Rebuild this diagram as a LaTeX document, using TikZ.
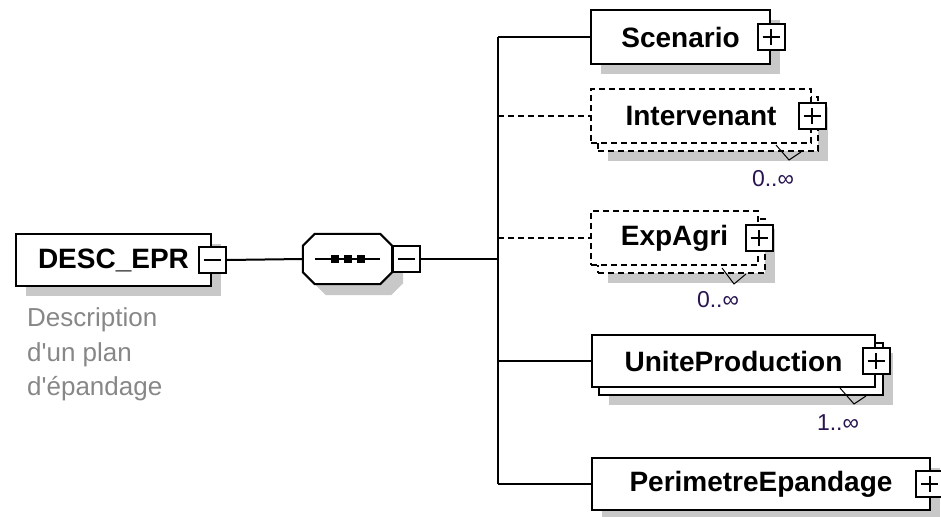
\documentclass[tikz,border=0pt]{standalone}
\usepackage{fontspec}
\setmainfont{Liberation Sans}[Ligatures=TeXOff]
\usetikzlibrary{calc,shadows}
\definecolor{shadowc}{RGB}{200,200,200}
\definecolor{descc}{RGB}{135,135,135}
\definecolor{multc}{RGB}{40,20,80}
\newcommand\seqoct[2]{([xshift=12pt+#1,yshift=#2]seq.north west) -- ([xshift=-12pt+#1,yshift=#2]seq.north east) -- ([xshift=#1,yshift=-12pt+#2]seq.north east) -- ([xshift=#1,yshift=12pt+#2]seq.south east) -- ([xshift=-12pt+#1,yshift=#2]seq.south east) -- ([xshift=12pt+#1,yshift=#2]seq.south west) -- ([xshift=#1,yshift=12pt+#2]seq.south west) -- ([xshift=#1,yshift=-12pt+#2]seq.north west) -- cycle}
\begin{document}
\begin{tikzpicture}[x=1pt,y=-1pt,
  shad/.style={drop shadow={shadow xshift=10pt, shadow yshift=-10pt, fill=shadowc, opacity=1}},
  elem/.style={draw, fill=white, line width=2pt, inner sep=0pt, font=\bfseries\fontsize{28}{32}\selectfont},
  optelem/.style={elem, dash pattern=on 6pt off 4pt},
  backbox/.style={draw, fill=white, line width=2pt, inner sep=0pt},
  optback/.style={backbox, dash pattern=on 6pt off 4pt},
  pmbox/.style={draw, fill=white, line width=2pt, minimum width=27pt, minimum height=26pt, inner sep=0pt},
  plusbox/.style={pmbox, path picture={\draw[line width=2pt] ([xshift=5pt]path picture bounding box.west) -- ([xshift=-5pt]path picture bounding box.east) ([yshift=-5pt]path picture bounding box.north) -- ([yshift=5pt]path picture bounding box.south);}},
  minusbox/.style={pmbox, path picture={\draw[line width=2pt] ([xshift=5pt]path picture bounding box.west) -- ([xshift=-5pt]path picture bounding box.east);}},
  conn/.style={line width=2pt},
  optconn/.style={conn, dash pattern=on 6pt off 4pt},
  vmark/.style={line width=1pt},
  mult/.style={font=\fontsize{23}{26}\selectfont, text=multc, inner sep=0pt},
  desctext/.style={font=\fontsize{26}{34.5}\selectfont, text=descc, align=left, inner sep=0pt}
]
\useasboundingbox (0,0) rectangle (941,516);

% root element
\node[elem, shad, minimum width=195, minimum height=52, anchor=north west] (desc) at (15,233) {DESC\_EPR};
\node[minusbox] (descm) at (desc.east) {};
\node[desctext, anchor=north west] (descr) at (27,307.5) {Description\\d'un plan\\d'épandage};

% sequence compositor
\node[minimum width=89, minimum height=50, inner sep=0pt] (seq) at (347.5,259) {};
\fill[shadowc] \seqoct{11pt}{-11pt};
\draw[conn, fill=white] \seqoct{0pt}{0pt};
\draw[line width=2pt] ([xshift=12pt]seq.west) -- ([xshift=-12pt]seq.east);
\fill ([xshift=-17pt,yshift=-4pt]seq.center) rectangle ([xshift=-9pt,yshift=4pt]seq.center);
\fill ([xshift=-4pt,yshift=-4pt]seq.center) rectangle ([xshift=4pt,yshift=4pt]seq.center);
\fill ([xshift=9pt,yshift=-4pt]seq.center) rectangle ([xshift=17pt,yshift=4pt]seq.center);
\node[minusbox, anchor=west] (seqm) at (seq.east) {};

% Scenario
\node[elem, shad, minimum width=179, minimum height=54, anchor=north west] (scen) at (590,9) {Scenario};
\node[plusbox] (scenp) at (scen.east) {};

% Intervenant
\node[optback, shad, minimum width=220, minimum height=54, anchor=north west] (intb) at (597,96) {};
\node[optelem, minimum width=220, minimum height=54, anchor=north west] (inter) at (590,88) {Intervenant};
\node[plusbox] (interp) at (inter.east) {};
\draw[vmark] ($(intb.south east)+(-43,-7)$) -- ($(intb.south east)+(-30,8)$) -- ($(intb.south east)+(-18,0)$);
\node[mult] (interm) at ($(intb.south east)+(-46,27)$) {0..∞};

% ExpAgri
\node[optback, shad, minimum width=167, minimum height=54, anchor=north west] (expb) at (597,218) {};
\node[optelem, minimum width=167, minimum height=54, anchor=north west] (exp) at (590,210) {ExpAgri};
\node[plusbox] (expp) at (exp.east) {};
\draw[vmark] ($(expb.south east)+(-44,-6)$) -- ($(expb.south east)+(-32,10)$) -- ($(expb.south east)+(-20,0)$);
\node[mult] (expm) at ($(expb.south east)+(-48,26)$) {0..∞};

% UniteProduction
\node[backbox, shad, minimum width=284, minimum height=52, anchor=north west] (uniteb) at (598,342) {};
\node[elem, minimum width=283, minimum height=52, anchor=north west] (unite) at (591,334) {UniteProduction};
\node[plusbox] (unitep) at (unite.east) {};
\draw[vmark] ($(uniteb.south east)+(-44,-8)$) -- ($(uniteb.south east)+(-30,8)$) -- ($(uniteb.south east)+(-18,0)$);
\node[mult] (unitem) at ($(uniteb.south east)+(-46,27)$) {1..∞};

% PerimetreEpandage
\node[elem, shad, minimum width=338, minimum height=52, anchor=north west] (peri) at (591,457) {PerimetreEpandage};
\node[plusbox, xshift=-1.5pt] (perip) at (peri.east) {};

% connectors
\coordinate (bar) at (498,259);
\draw[conn] (descm.east) -- (seq.west);
\draw[conn] (seqm.east) -- (bar);
\draw[conn] (bar |- scen.west) -- (bar |- peri.west);
\draw[conn] (bar |- scen.west) -- (scen.west);
\draw[optconn] (bar |- inter.west) -- (inter.west);
\draw[optconn] (bar |- exp.west) -- (exp.west);
\draw[conn] (bar |- unite.west) -- (unite.west);
\draw[conn] (bar |- peri.west) -- (peri.west);
\end{tikzpicture}
\end{document}
